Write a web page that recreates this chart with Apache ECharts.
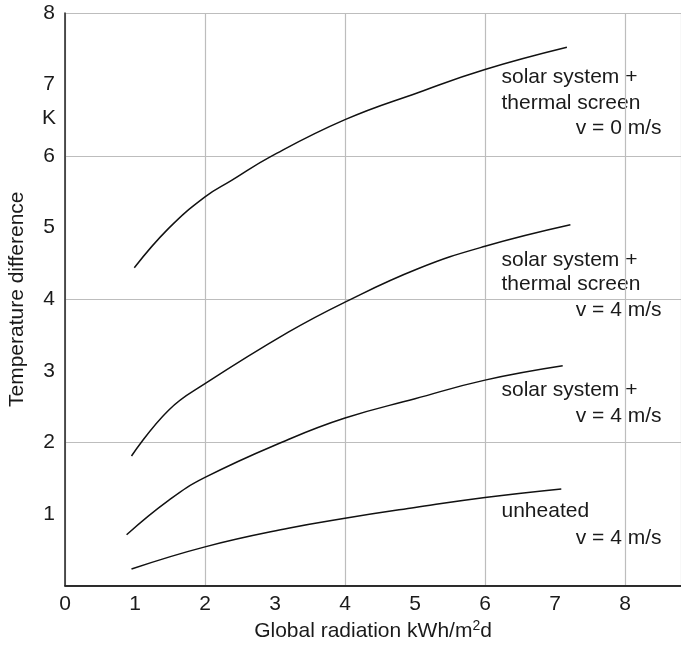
<!DOCTYPE html>
<html>
<head>
<meta charset="utf-8">
<script src="https://cdn.jsdelivr.net/npm/echarts@6/dist/echarts.min.js"></script>
<style>
html,body{margin:0;padding:0;background:#fff;}
#chart{width:681px;height:645px;}
</style>
</head>
<body>
<div id="chart"></div>
<script>
// Data
const xTicks = [0, 1, 2, 3, 4, 5, 6, 7, 8];
const yTicks = [1, 2, 3, 4, 5, 6, 7, 8];

const screenV0X = [0.99, 1.48, 2, 2.38, 2.95, 4, 5.05, 6, 7.17];
const screenV0Y = [4.44, 4.99, 5.43, 5.66, 6.0, 6.51, 6.89, 7.21, 7.52];

const screenV4X = [0.95, 1.48, 2, 3.19, 4, 5.05, 6, 7.22];
const screenV4Y = [1.81, 2.45, 2.82, 3.54, 3.96, 4.43, 4.74, 5.04];

const solarV4X = [0.88, 1.48, 2, 3.19, 4, 5, 6, 7.11];
const solarV4Y = [0.71, 1.19, 1.51, 2.04, 2.34, 2.61, 2.87, 3.07];

const unheatedX = [0.95, 2, 3.19, 4, 5, 6, 7.09];
const unheatedY = [0.23, 0.54, 0.80, 0.94, 1.09, 1.23, 1.35];

const FONT = '"Liberation Sans", Arial, Helvetica, sans-serif';
const TXT = '#1a1a1a';

function pairs(xs, ys) { return xs.map((x, i) => [x, ys[i]]); }

function curve(name, xs, ys) {
  return {
    name: name,
    type: 'line',
    xAxisIndex: 0,
    yAxisIndex: 0,
    data: pairs(xs, ys),
    smooth: 0.45,
    showSymbol: false,
    symbol: 'none',
    silent: true,
    lineStyle: { color: '#111', width: 1.5 }
  };
}

function txt(s, x, y, align) {
  return {
    type: 'text',
    x: x, y: y,
    silent: true,
    style: {
      text: s,
      font: '21px ' + FONT,
      fill: TXT,
      textAlign: align, align: align,
      textVerticalAlign: 'middle', verticalAlign: 'middle'
    }
  };
}

const chart = echarts.init(document.getElementById('chart'), null, { renderer: 'canvas' });

const option = {
  animation: false,
  backgroundColor: '#fff',
  grid: { left: 65, right: 0, top: 13, bottom: 59.5, containLabel: false, outerBoundsMode: 'none' },
  xAxis: [
    {
      type: 'value', min: 0, max: 8.8, interval: 1, position: 'bottom',
      axisLine: { show: true, lineStyle: { color: '#222', width: 1.5 } },
      axisTick: { show: false },
      splitLine: { show: false },
      axisLabel: {
        show: true, margin: 8, color: TXT, fontSize: 21, fontFamily: FONT,
        showMaxLabel: false,
        formatter: v => (xTicks.indexOf(v) >= 0 ? String(v) : '')
      },
      name: '{a|Global radiation kWh/m}{s|2}{a|d}',
      nameLocation: 'middle', nameGap: 32,
      nameTextStyle: {
        rich: {
          a: { fontSize: 21, fontFamily: FONT, color: TXT },
          s: { fontSize: 14, fontFamily: FONT, color: TXT, verticalAlign: 'top', padding: [0, 0, 10, 0] }
        }
      }
    },
    {
      type: 'value', min: 0, max: 8.8, interval: 2, position: 'top',
      axisLine: { show: true, lineStyle: { color: '#222', width: 1.5 } },
      axisTick: { show: false },
      axisLabel: { show: false },
      splitLine: { show: true, lineStyle: { color: '#bdbdbd', width: 1.2 } }
    }
  ],
  yAxis: [
    {
      type: 'value', min: 0, max: 8, interval: 1, position: 'left',
      axisLine: { show: true, lineStyle: { color: '#222', width: 1.5 } },
      axisTick: { show: false },
      splitLine: { show: false },
      axisLabel: {
        show: true, margin: 10, color: TXT, fontSize: 21, fontFamily: FONT,
        formatter: v => (yTicks.indexOf(v) >= 0 ? String(v) : '')
      },
      name: 'Temperature difference',
      nameLocation: 'middle', nameGap: 37, nameRotate: 90,
      nameTextStyle: { fontSize: 21, fontFamily: FONT, color: TXT }
    },
    {
      type: 'value', min: 0, max: 8, interval: 2, position: 'left',
      axisLine: { show: false },
      axisTick: { show: false },
      axisLabel: { show: false },
      splitLine: { show: true, lineStyle: { color: '#bdbdbd', width: 1.2 } }
    }
  ],
  series: [
    curve('solar system + thermal screen v = 0 m/s', screenV0X, screenV0Y),
    curve('solar system + thermal screen v = 4 m/s', screenV4X, screenV4Y),
    curve('solar system + v = 4 m/s', solarV4X, solarV4Y),
    curve('unheated v = 4 m/s', unheatedX, unheatedY)
  ],
  graphic: [
    txt('K', 49, 118, 'center'),
    txt('solar system +', 501.5, 77, 'left'),
    txt('thermal screen', 501.5, 103, 'left'),
    txt('v = 0 m/s', 661.5, 128.5, 'right'),
    txt('solar system +', 501.5, 260, 'left'),
    txt('thermal screen', 501.5, 284, 'left'),
    txt('v = 4 m/s', 661.5, 310, 'right'),
    txt('solar system +', 501.5, 390, 'left'),
    txt('v = 4 m/s', 661.5, 416.5, 'right'),
    txt('unheated', 501.5, 511.5, 'left'),
    txt('v = 4 m/s', 661.5, 538.5, 'right')
  ]
};

chart.setOption(option);
</script>
</body>
</html>
